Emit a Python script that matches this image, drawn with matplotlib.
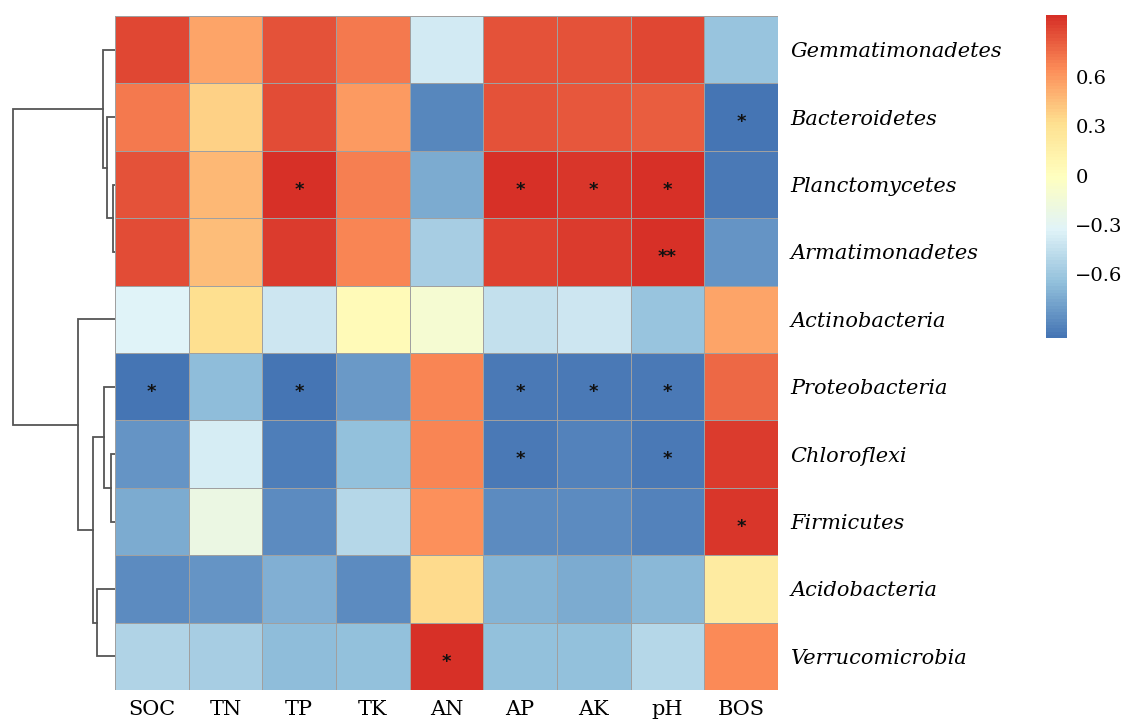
import numpy as np
import matplotlib
matplotlib.use('Agg')
import matplotlib.pyplot as plt
from matplotlib.colors import LinearSegmentedColormap

phyla = ['Gemmatimonadetes', 'Bacteroidetes', 'Planctomycetes', 'Armatimonadetes',
         'Actinobacteria', 'Proteobacteria', 'Chloroflexi', 'Firmicutes',
         'Acidobacteria', 'Verrucomicrobia']
factors = ['SOC', 'TN', 'TP', 'TK', 'AN', 'AP', 'AK', 'pH', 'BOS']

# correlation coefficients, rows already in clustered order
corr = np.array([
    [0.90, 0.55, 0.85, 0.72, -0.38, 0.85, 0.85, 0.90, -0.62],
    [0.72, 0.38, 0.87, 0.60, -0.90, 0.86, 0.84, 0.82, -0.99],
    [0.86, 0.47, 0.97, 0.70, -0.75, 0.97, 0.96, 0.97, -0.97],
    [0.87, 0.46, 0.93, 0.67, -0.57, 0.92, 0.93, 0.97, -0.85],
    [-0.33, 0.32, -0.40, 0.04, -0.12, -0.44, -0.41, -0.62, 0.55],
    [-0.98, -0.67, -0.98, -0.83, 0.67, -0.97, -0.97, -0.97, 0.77],
    [-0.84, -0.36, -0.95, -0.64, 0.67, -0.96, -0.93, -0.96, 0.94],
    [-0.74, -0.22, -0.88, -0.50, 0.64, -0.88, -0.88, -0.93, 0.96],
    [-0.89, -0.85, -0.72, -0.89, 0.33, -0.70, -0.74, -0.68, 0.20],
    [-0.53, -0.56, -0.67, -0.64, 0.97, -0.64, -0.64, -0.50, 0.65],
])

signif = [
    ['', '', '', '', '', '', '', '', ''],
    ['', '', '', '', '', '', '', '', '*'],
    ['', '', '*', '', '', '*', '*', '*', ''],
    ['', '', '', '', '', '', '', '**', ''],
    ['', '', '', '', '', '', '', '', ''],
    ['*', '', '*', '', '', '*', '*', '*', ''],
    ['', '', '', '', '', '*', '', '*', ''],
    ['', '', '', '', '', '', '', '', '*'],
    ['', '', '', '', '', '', '', '', ''],
    ['', '', '', '', '*', '', '', '', ''],
]

# row clustering: (left, right, height); ids >= 10 refer to earlier merges
merges = [
    (2, 3, 2), (1, 10, 8), (0, 11, 12),
    (6, 7, 4), (5, 13, 11), (8, 9, 18), (14, 15, 22), (4, 16, 37),
    (12, 17, 102),
]

palette = ['#4575B4', '#91BFDB', '#E0F3F8', '#FFFFBF', '#FEE090', '#FC8D59', '#D73027']
cmap = LinearSegmentedColormap.from_list('rdylbu', palette, N=100)
vmin, vmax = -0.99, 0.98

fig = plt.figure(figsize=(11.26, 7.22), dpi=100)
ax = fig.add_axes([115 / 1126, 1 - 690 / 722, 663 / 1126, 674 / 722])
ax_tree = fig.add_axes([10 / 1126, 1 - 690 / 722, 105 / 1126, 674 / 722])
cax = fig.add_axes([1046 / 1126, 1 - 338 / 722, 21 / 1126, 323 / 722])

nr, nc = corr.shape
mesh = ax.pcolormesh(np.arange(nc + 1), np.arange(nr + 1), corr, cmap=cmap,
                     vmin=vmin, vmax=vmax, edgecolors='#a0a0a0', linewidth=0.6)
ax.set_xlim(0, nc)
ax.set_ylim(nr, 0)
for i in range(nr):
    for j in range(nc):
        if signif[i][j]:
            ax.text(j + 0.5, i + 0.58, signif[i][j], ha='center', va='center',
                    fontsize=13, fontweight='bold', color='#111111',
                    family='DejaVu Sans')
ax.set_xticks(np.arange(nc) + 0.5)
ax.set_xticklabels(factors, family='DejaVu Serif', fontsize=15)
ax.yaxis.tick_right()
ax.set_yticks(np.arange(nr) + 0.5)
ax.set_yticklabels(phyla, family='DejaVu Serif', style='italic', fontsize=15)
ax.tick_params(length=0, pad=9)
ax.tick_params(axis='x', pad=7)
for s in ax.spines.values():
    s.set_visible(False)

# dendrogram
pos = {i: (0.0, i + 0.5) for i in range(nr)}
for k, (a, b, h) in enumerate(merges):
    ha_, ya = pos[a]
    hb, yb = pos[b]
    ax_tree.plot([ha_, h, h, hb], [ya, ya, yb, yb], color='#555555', lw=1.3,
                 solid_joinstyle='miter')
    pos[nr + k] = (h, (ya + yb) / 2)
ax_tree.set_xlim(max(m[2] for m in merges) * 1.03, 0)
ax_tree.set_ylim(nr, 0)
ax_tree.axis('off')

cb = fig.colorbar(mesh, cax=cax)
cb.outline.set_visible(False)
cb.set_ticks([-0.6, -0.3, 0, 0.3, 0.6])
cb.set_ticklabels(['\u22120.6', '\u22120.3', '0', '0.3', '0.6'])
cax.tick_params(length=0, pad=6)
for lab in cax.get_yticklabels():
    lab.set_family('DejaVu Serif')
    lab.set_fontsize(14)

fig.savefig('out.png', dpi=100)
